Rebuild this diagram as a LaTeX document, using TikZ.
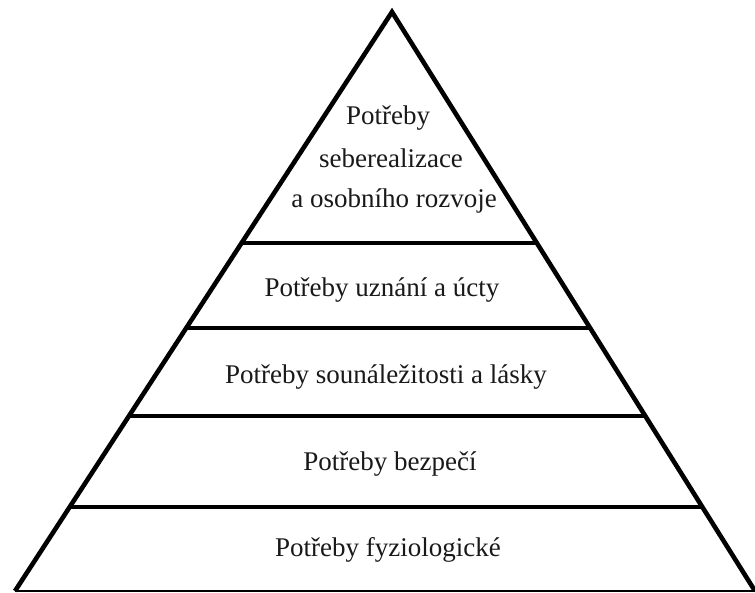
\documentclass[tikz,border=0pt]{standalone}
\usepackage{fontspec}
\setmainfont{Liberation Serif}
\usetikzlibrary{calc}
\begin{document}
\begin{tikzpicture}[x=1pt,y=-1pt,
  edge/.style={line width=4.6pt,line join=miter,line cap=butt},
  baseedge/.style={line width=2.4pt},
  lbl/.style={font=\fontsize{27}{30}\selectfont,inner sep=0pt,text=black!90}]
\useasboundingbox (0,0) rectangle (755,593);
\coordinate (A) at (392,12);
\coordinate (BL) at (15,591);
\coordinate (BR) at (755,591);
\draw[baseedge] (BL) -- (BR);
\draw[edge] (BL) -- (A) -- (BR);
\foreach \t/\n in {0.399/a,0.546/b,0.698/c,0.855/d}{
  \coordinate (L\n) at ($(A)!\t!(BL)$);
  \coordinate (R\n) at ($(A)!\t!(BR)$);
  \draw[edge] (L\n) -- (R\n);
}
\node[lbl,anchor=base] (t1) at (388,125) {Potřeby};
\node[lbl,anchor=base] (t2) at (391,168) {seberealizace};
\node[lbl,anchor=base] (t3) at (394,208) {a osobního rozvoje};
\node[lbl,anchor=base] (t4) at (382,297) {Potřeby uznání a úcty};
\node[lbl,anchor=base] (t5) at (386,384) {Potřeby sounáležitosti a lásky};
\node[lbl,anchor=base] (t6) at (390,470) {Potřeby bezpečí};
\node[lbl,anchor=base] (t7) at (388,556) {Potřeby fyziologické};
\end{tikzpicture}
\end{document}
